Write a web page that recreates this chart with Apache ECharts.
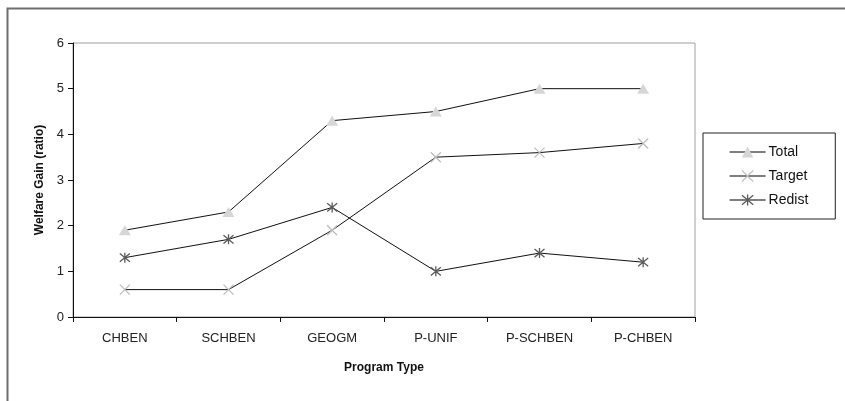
<!DOCTYPE html>
<html>
<head>
<meta charset="utf-8">
<script src="https://cdn.jsdelivr.net/npm/echarts@6/dist/echarts.min.js"></script>
<style>
  html, body { margin: 0; padding: 0; background: #fff; }
  #chart { width: 845px; height: 401px; }
</style>
</head>
<body>
<div id="chart"></div>
<script>
// Program types along the horizontal axis
const categories = ['CHBEN', 'SCHBEN', 'GEOGM', 'P-UNIF', 'P-SCHBEN', 'P-CHBEN'];

// Welfare gain ratios per program type
const totalValues  = [1.9, 2.3, 4.3, 4.5, 5.0, 5.0];
const targetValues = [0.6, 0.6, 1.9, 3.5, 3.6, 3.8];
const redistValues = [1.3, 1.7, 2.4, 1.0, 1.4, 1.2];

const yTicks = { min: 0, max: 6, interval: 1 };

const FONT = '"Liberation Sans", Arial, sans-serif';

// Marker shapes: a cross and an asterisk drawn as stroked paths
const crossPath = 'path://M0,0L10,10M10,0L0,10';
const starPath = 'path://M0,0L10,10M10,0L0,10M5,-1L5,11';

const totalMarker  = { color: '#d6d6d6', borderWidth: 0 };
const targetMarker = { color: 'transparent', borderColor: '#bdbdbd', borderWidth: 1.3 };
const redistMarker = { color: 'transparent', borderColor: '#5a5a5a', borderWidth: 1.3 };
const seriesLine = { color: '#111', width: 1 };
const legendLine = { color: '#000', width: 1.2 };

const chart = echarts.init(document.getElementById('chart'), null, { renderer: 'canvas' });

chart.setOption({
  backgroundColor: '#ffffff',
  animation: false,
  textStyle: { fontFamily: FONT },
  graphic: [
    {
      type: 'rect',
      left: 5, top: 6,
      shape: { width: 900, height: 500 },
      style: { fill: 'none', stroke: '#6e6e6e', lineWidth: 2 },
      silent: true,
      z: -10
    }
  ],
  grid: {
    left: 73, right: 150, top: 43, bottom: 84,
    show: true,
    borderColor: '#a0a0a0',
    borderWidth: 1,
    backgroundColor: 'transparent'
  },
  legend: {
    orient: 'vertical',
    left: 703,
    top: 133,
    padding: [12, 27, 12, 26],
    itemGap: 10,
    itemWidth: 36,
    itemHeight: 14,
    borderColor: '#222',
    borderWidth: 1,
    lineStyle: legendLine,
    textStyle: { fontFamily: FONT, fontSize: 14, color: '#111', padding: [0, 0, 0, -2] },
    data: [
      { name: 'Total', itemStyle: totalMarker, lineStyle: legendLine },
      { name: 'Target', itemStyle: targetMarker, lineStyle: legendLine },
      { name: 'Redist', itemStyle: redistMarker, lineStyle: legendLine }
    ]
  },
  xAxis: {
    type: 'category',
    data: categories,
    boundaryGap: true,
    name: 'Program Type',
    nameLocation: 'middle',
    nameGap: 45,
    nameTextStyle: { fontFamily: FONT, fontSize: 12, fontWeight: 'bold', color: '#111' },
    axisLine: { lineStyle: { color: '#111', width: 1 } },
    axisTick: { show: true, length: 5, lineStyle: { color: '#111' } },
    axisLabel: { fontFamily: FONT, fontSize: 13, color: '#222', margin: 15 },
    splitLine: { show: false }
  },
  yAxis: {
    type: 'value',
    min: yTicks.min,
    max: yTicks.max,
    interval: yTicks.interval,
    name: 'Welfare Gain (ratio)',
    nameLocation: 'middle',
    nameGap: 27,
    nameTextStyle: { fontFamily: FONT, fontSize: 12, fontWeight: 'bold', color: '#111' },
    axisLine: { show: true, lineStyle: { color: '#111', width: 1 } },
    axisTick: { show: true, length: 5, lineStyle: { color: '#111' } },
    axisLabel: { fontFamily: FONT, fontSize: 13, color: '#222', margin: 9 },
    splitLine: { show: false }
  },
  series: [
    {
      name: 'Total',
      type: 'line',
      data: totalValues,
      symbol: 'triangle',
      symbolSize: [12, 10],
      showAllSymbol: true,
      lineStyle: seriesLine,
      itemStyle: totalMarker,
      z: 3
    },
    {
      name: 'Target',
      type: 'line',
      data: targetValues,
      symbol: crossPath,
      symbolSize: 10,
      showAllSymbol: true,
      lineStyle: seriesLine,
      itemStyle: targetMarker,
      z: 2
    },
    {
      name: 'Redist',
      type: 'line',
      data: redistValues,
      symbol: starPath,
      symbolSize: 10,
      showAllSymbol: true,
      lineStyle: seriesLine,
      itemStyle: redistMarker,
      z: 4
    }
  ]
});
</script>
</body>
</html>
